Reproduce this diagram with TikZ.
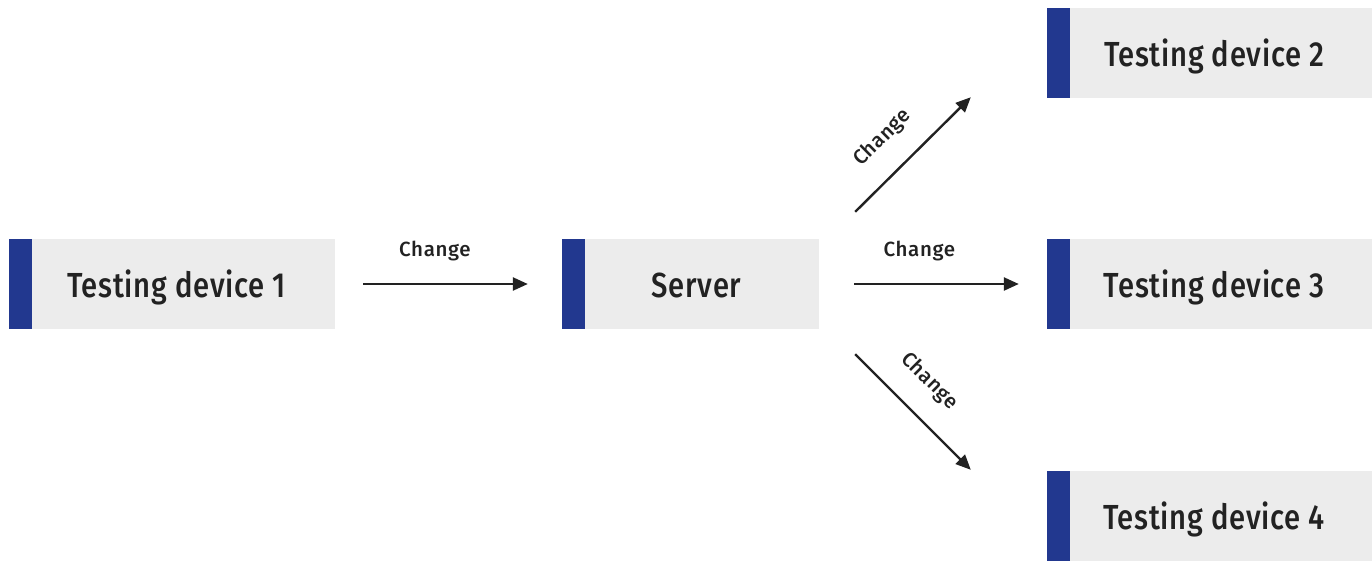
\documentclass[tikz,border=0pt]{standalone}
\usepackage{fontspec}
\setmainfont{Fira Sans Medium}[FakeStretch=0.84,LetterSpace=2]
\newfontfamily\lblfont{Fira Sans Medium}[LetterSpace=3]
\usetikzlibrary{arrows.meta,calc}
\definecolor{boxgray}{HTML}{ECECEC}
\definecolor{barblue}{HTML}{22388F}
\definecolor{ink}{HTML}{222222}
\tikzset{
  devbox/.style={rectangle, fill=boxgray, minimum height=90pt, inner sep=0pt,
    text height=26pt, text depth=0pt,
    text=ink, font=\fontsize{34.8}{40}\selectfont,
    path picture={\fill[barblue] (path picture bounding box.south west) rectangle ([xshift=23pt]path picture bounding box.north west);}},
  flow/.style={line width=2.4pt, draw=ink, -{Triangle[length=15pt,width=13pt]}},
  lbl/.style={font=\lblfont\fontsize{20.5}{24}\selectfont, text=ink, inner sep=0pt, sloped, above=22pt, pos=0.44}
}
\begin{document}
\begin{tikzpicture}[x=1pt,y=-1pt]
\useasboundingbox (0,0) rectangle (1372,563);
\node[devbox, minimum width=326pt] (d1) at (172,284) {\hspace*{9pt}Testing device 1};
\node[devbox, minimum width=257pt] (srv) at (690.5,284) {\hspace*{12pt}Server};
\node[devbox, minimum width=325pt] (d2) at (1209.5,53) {\hspace*{9pt}Testing device 2};
\node[devbox, minimum width=325pt] (d3) at (1209.5,284) {\hspace*{9pt}Testing device 3};
\node[devbox, minimum width=325pt] (d4) at (1209.5,516) {\hspace*{9pt}Testing device 4};
\draw[flow, shorten <=28pt, shorten >=34pt] (d1.east) -- (srv.west) node[lbl] (l1) {Change};
\draw[flow, shorten <=35pt, shorten >=28pt] (srv.east) -- (d3.west) node[lbl] (l3) {Change};
\coordinate (s2) at ($(srv.north east)+(36,-27)$);
\coordinate (e2) at ($(d2.south west)+(-76,-1)$);
\coordinate (s4) at ($(srv.south east)+(36,25)$);
\coordinate (e4) at ($(d4.north west)+(-76,-1)$);
\draw[flow] (s2) -- (e2) node[lbl] (l2) {Change};
\draw[flow] (s4) -- (e4) node[lbl] (l4) {Change};
\end{tikzpicture}
\end{document}
